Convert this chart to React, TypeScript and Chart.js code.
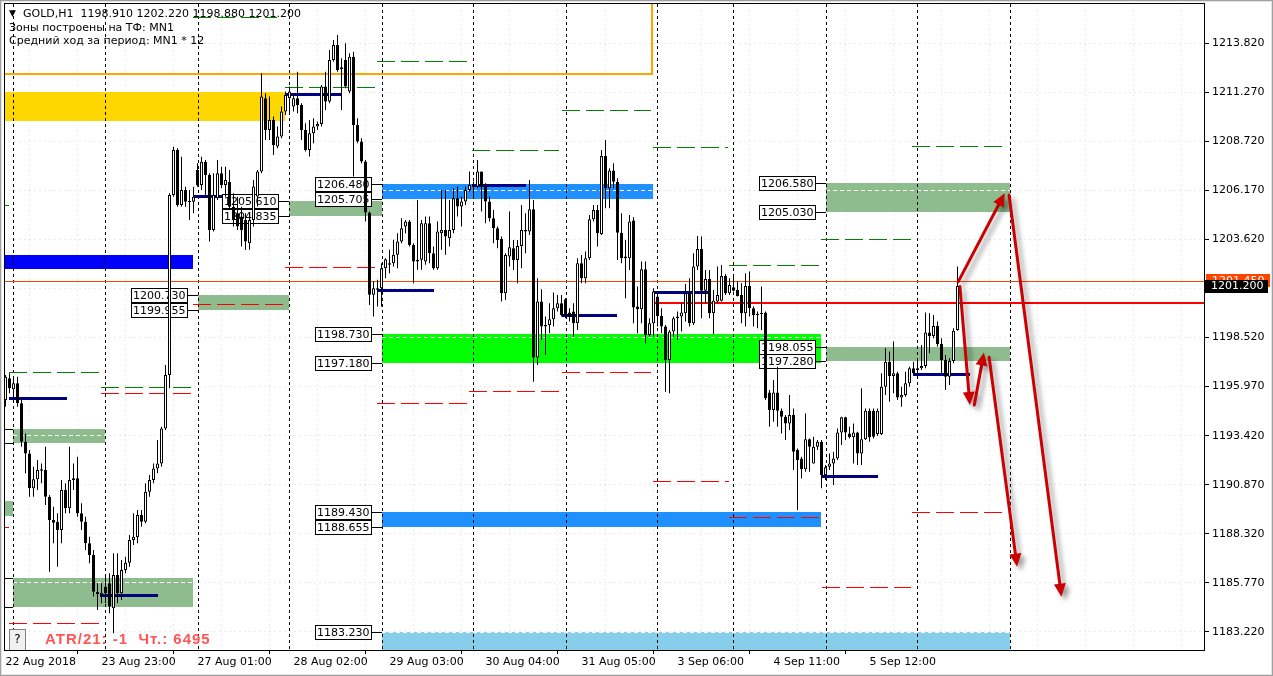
import React, { useEffect, useRef } from 'react';
import { Chart, registerables } from 'chart.js';
Chart.register(...registerables);

// ---------- candle data (GOLD H1) ----------
const opens = [1195.28,1196.40,1195.83,1196.14,1195.10,1193.11,1192.50,1190.69,1191.15,1191.60,1191.64,1190.25,1189.04,1188.95,1188.52,1190.60,1189.65,1191.12,1191.21,1189.39,1188.95,1187.83,1187.22,1185.31,1185.14,1185.57,1185.75,1184.45,1186.18,1185.23,1186.44,1186.82,1188.00,1188.14,1189.30,1188.95,1190.51,1191.12,1191.72,1191.98,1193.80,1196.58,1205.93,1208.27,1205.41,1206.19,1205.57,1205.58,1207.23,1206.45,1207.66,1206.97,1204.11,1205.76,1207.06,1206.45,1206.62,1205.32,1204.98,1204.81,1204.63,1203.42,1204.63,1205.85,1207.15,1210.96,1209.31,1209.83,1208.45,1208.97,1210.27,1210.96,1210.53,1210.96,1210.61,1209.31,1208.27,1209.14,1209.49,1209.62,1211.57,1210.79,1212.95,1213.73,1212.47,1212.95,1211.31,1213.12,1209.57,1208.71,1207.67,1205.02,1200.74,1201.00,1201.08,1202.12,1202.30,1202.38,1202.82,1203.51,1204.29,1204.55,1203.33,1202.56,1202.56,1202.47,1204.46,1202.90,1202.12,1203.94,1204.11,1203.68,1204.11,1205.76,1205.33,1205.59,1206.19,1206.45,1206.37,1207.15,1206.37,1205.59,1204.72,1204.20,1203.65,1200.82,1202.73,1203.16,1202.55,1203.28,1204.03,1204.03,1205.19,1197.48,1200.39,1199.17,1199.17,1199.47,1200.04,1200.30,1200.51,1199.82,1199.87,1199.26,1202.38,1201.60,1202.64,1204.67,1205.15,1203.89,1207.96,1206.28,1207.20,1206.62,1203.97,1202.73,1202.64,1204.60,1200.13,1199.99,1202.07,1198.66,1199.26,1200.65,1199.64,1199.09,1197.36,1198.83,1199.52,1199.61,1199.78,1200.82,1199.26,1202.21,1203.12,1200.96,1201.57,1199.78,1200.39,1200.44,1201.72,1200.82,1201.13,1200.99,1200.73,1199.78,1201.20,1200.04,1199.75,1199.75,1199.83,1195.67,1194.76,1195.67,1194.72,1194.41,1194.06,1194.50,1192.68,1192.24,1191.67,1193.23,1191.98,1192.85,1193.11,1191.38,1191.81,1191.98,1192.24,1193.58,1194.38,1193.54,1193.34,1193.58,1192.50,1193.23,1194.72,1194.72,1193.51,1193.51,1195.97,1197.27,1196.52,1196.66,1195.41,1195.54,1196.14,1196.92,1196.84,1196.92,1197.04,1198.78,1198.60,1199.12,1198.19,1197.35,1196.49,1197.30,1198.91];
const highs = [1196.58,1196.66,1196.49,1196.49,1195.28,1193.54,1192.68,1191.81,1192.16,1191.98,1192.85,1190.34,1189.73,1189.39,1191.12,1190.95,1192.85,1191.98,1192.33,1189.91,1189.21,1188.17,1187.48,1185.75,1185.75,1186.09,1186.27,1187.31,1187.31,1186.96,1187.13,1188.26,1189.39,1189.56,1189.56,1190.95,1191.38,1191.98,1193.20,1193.89,1197.10,1206.02,1208.44,1208.36,1207.92,1206.36,1206.19,1206.36,1207.58,1207.92,1207.75,1207.06,1207.06,1207.75,1207.40,1207.40,1207.23,1206.02,1205.84,1205.32,1204.98,1204.98,1206.71,1207.23,1212.26,1211.22,1211.05,1210.01,1209.49,1210.53,1211.31,1211.57,1211.13,1212.34,1210.70,1209.66,1209.83,1209.92,1209.75,1211.65,1212.34,1213.47,1213.99,1214.25,1213.04,1213.82,1213.30,1213.38,1209.92,1208.88,1207.75,1205.07,1201.43,1201.52,1202.38,1202.64,1203.08,1203.60,1203.94,1204.72,1204.63,1204.63,1203.42,1205.67,1204.63,1204.81,1204.81,1203.25,1204.55,1206.19,1206.19,1205.67,1206.28,1206.37,1205.85,1206.37,1207.15,1206.63,1207.75,1207.15,1206.54,1205.85,1205.15,1204.29,1203.77,1202.90,1205.07,1203.59,1203.59,1205.41,1204.98,1206.71,1205.67,1201.60,1201.03,1199.61,1200.30,1200.86,1200.73,1200.73,1200.56,1200.04,1200.30,1202.64,1202.81,1202.99,1204.89,1205.41,1205.41,1208.27,1208.79,1207.32,1207.58,1206.80,1204.98,1203.59,1204.89,1204.77,1201.17,1202.47,1202.47,1199.52,1201.08,1200.91,1200.04,1199.17,1198.91,1199.61,1199.87,1200.30,1201.31,1201.60,1202.90,1203.80,1203.77,1202.03,1202.03,1200.99,1202.21,1202.29,1201.83,1201.60,1201.69,1201.43,1201.34,1201.86,1201.95,1200.13,1199.87,1201.17,1199.87,1195.80,1196.32,1197.01,1194.84,1194.50,1195.54,1194.84,1192.76,1192.33,1194.58,1193.28,1193.37,1193.20,1193.20,1191.90,1192.50,1192.59,1193.80,1194.41,1194.41,1193.89,1194.06,1193.63,1195.88,1194.84,1194.84,1194.84,1194.84,1196.66,1197.96,1197.79,1198.31,1196.75,1195.97,1196.75,1197.01,1197.27,1197.35,1198.13,1199.82,1199.78,1199.69,1199.35,1198.48,1197.62,1197.44,1199.00,1202.22];
const lows = [1194.93,1195.62,1195.45,1194.93,1192.85,1191.47,1190.25,1190.25,1190.60,1190.95,1189.82,1186.35,1187.83,1186.61,1187.83,1189.39,1189.39,1190.60,1189.21,1188.52,1187.48,1186.79,1185.06,1184.36,1184.71,1184.71,1184.19,1183.15,1184.71,1184.88,1186.27,1186.61,1187.74,1187.83,1188.69,1188.87,1190.25,1190.95,1191.47,1191.81,1193.72,1195.88,1205.84,1205.32,1205.32,1205.32,1204.63,1204.98,1206.36,1206.19,1205.84,1203.51,1204.03,1205.67,1206.28,1205.84,1205.15,1204.29,1204.11,1203.25,1203.07,1203.08,1204.29,1205.33,1207.06,1208.79,1208.79,1208.01,1208.36,1208.88,1210.09,1210.09,1210.27,1210.18,1208.79,1208.19,1207.93,1208.62,1209.31,1209.49,1210.35,1210.70,1212.86,1212.34,1210.35,1211.48,1211.22,1206.89,1208.62,1207.58,1204.55,1200.22,1199.61,1200.13,1200.13,1201.60,1201.86,1202.21,1202.12,1203.42,1203.94,1203.25,1201.34,1202.04,1202.04,1202.30,1202.38,1202.04,1202.04,1203.08,1202.82,1203.25,1203.94,1204.81,1204.29,1205.41,1206.11,1205.85,1206.28,1205.07,1204.46,1204.55,1203.42,1203.16,1200.39,1200.47,1202.21,1202.03,1201.34,1202.12,1202.90,1203.85,1196.23,1197.10,1198.40,1197.62,1198.74,1199.09,1199.87,1199.61,1199.52,1199.35,1198.57,1198.91,1201.34,1201.34,1202.55,1204.55,1203.25,1203.85,1205.24,1205.24,1206.28,1202.55,1202.38,1200.56,1202.03,1199.26,1198.74,1199.26,1198.22,1198.57,1198.57,1199.09,1198.74,1195.71,1195.62,1198.57,1198.40,1198.83,1199.35,1199.09,1199.17,1202.03,1199.52,1200.30,1199.52,1198.71,1200.30,1200.39,1200.73,1200.73,1200.91,1200.65,1199.26,1199.09,1199.61,1199.09,1199.00,1198.91,1195.28,1193.89,1194.15,1193.89,1193.54,1193.20,1193.72,1191.64,1189.56,1191.20,1191.55,1191.55,1191.98,1192.68,1190.69,1191.12,1191.64,1190.86,1192.16,1192.94,1193.20,1193.28,1191.98,1191.90,1191.90,1193.20,1193.11,1193.28,1193.40,1193.46,1195.54,1195.19,1195.62,1195.28,1194.93,1195.45,1195.97,1196.58,1196.66,1196.84,1196.92,1197.70,1198.48,1198.05,1196.66,1195.80,1196.06,1197.18,1198.88];
const closes = [1196.49,1195.88,1196.14,1195.10,1193.11,1192.50,1190.69,1191.15,1191.64,1191.67,1190.25,1189.04,1188.90,1188.52,1190.60,1189.65,1191.12,1191.21,1189.39,1188.95,1187.83,1187.22,1185.31,1185.19,1185.26,1185.23,1184.54,1186.18,1185.23,1186.44,1186.82,1188.00,1188.17,1189.30,1188.95,1190.51,1191.12,1191.72,1191.98,1193.80,1196.58,1205.93,1208.27,1205.41,1206.19,1205.58,1205.62,1205.84,1206.45,1207.66,1206.97,1204.11,1205.93,1207.06,1206.45,1206.71,1205.32,1204.63,1204.29,1204.11,1203.51,1204.63,1206.37,1207.15,1211.05,1209.31,1209.83,1208.53,1208.97,1210.27,1211.13,1211.31,1210.96,1210.61,1209.31,1208.27,1209.14,1209.49,1209.62,1211.57,1210.79,1212.95,1213.73,1212.43,1212.57,1211.57,1213.12,1209.57,1208.71,1207.67,1205.02,1200.74,1201.08,1201.08,1202.12,1202.59,1202.38,1202.82,1203.51,1204.20,1204.55,1203.33,1202.47,1202.47,1204.46,1204.46,1202.90,1202.12,1204.03,1204.11,1203.77,1204.11,1205.76,1205.33,1205.59,1206.19,1206.45,1206.37,1207.15,1206.37,1205.59,1204.72,1204.20,1203.59,1200.82,1202.81,1203.21,1202.55,1203.28,1204.11,1204.11,1205.19,1197.48,1200.39,1199.09,1199.09,1199.47,1200.04,1200.30,1199.70,1199.70,1199.61,1199.26,1202.38,1201.60,1202.64,1204.67,1205.15,1203.94,1207.96,1206.28,1207.20,1206.62,1203.97,1202.64,1202.64,1204.55,1200.09,1199.99,1202.07,1198.66,1199.26,1200.91,1199.64,1199.09,1197.36,1198.83,1199.52,1199.61,1199.83,1200.82,1199.26,1202.21,1203.12,1200.96,1201.57,1199.78,1200.44,1200.73,1201.72,1200.82,1201.25,1200.96,1200.68,1199.78,1201.20,1200.04,1199.69,1199.69,1199.78,1195.36,1194.76,1195.67,1194.72,1194.41,1194.06,1194.50,1192.59,1192.16,1191.67,1193.23,1192.85,1192.85,1193.11,1191.38,1191.78,1191.98,1192.24,1193.58,1194.38,1193.58,1193.34,1193.58,1192.50,1193.23,1194.72,1193.34,1193.37,1194.72,1195.97,1197.27,1196.52,1196.66,1195.41,1195.54,1196.14,1196.92,1196.66,1196.92,1197.04,1198.78,1198.60,1199.12,1198.19,1197.35,1196.49,1197.30,1198.88,1201.20];

// ---------- axes ----------
const xTickLabels = ['22 Aug 2018', '23 Aug 23:00', '27 Aug 01:00', '28 Aug 02:00', '29 Aug 03:00', '30 Aug 04:00', '31 Aug 05:00', '3 Sep 06:00', '4 Sep 11:00', '5 Sep 12:00'];
const barsPerLabel = 24;
const yTickValues = [1183.22, 1185.77, 1188.32, 1190.87, 1193.42, 1195.97, 1198.52, 1201.07, 1203.62, 1206.17, 1208.72, 1211.27, 1213.82];
const xRange = [-0.375, 299.875];
const yRange = [1182.28, 1215.86];

// day separators (bar index)
const separators = [1.9, 25, 48, 70.9, 94, 117, 140, 162.9, 181.9, 205, 228, 251.1];

// ---------- zones [from, to, top price, bottom price] ----------
const goldZones = [[-3, 69.8, 1211.30, 1209.80]];
const blueZones = [[-3, 46.8, 1202.81, 1202.07]];
const seaGreenZones = [[-3, 1.9, 1190.00, 1189.25], [1.9, 25.0, 1193.75, 1193.03], [1.9, 46.8, 1186.01, 1184.54], [48.0, 70.9, 1200.730, 1199.955], [70.9, 94.0, 1205.610, 1204.835], [205.0, 251.1, 1206.580, 1205.030], [205.0, 251.1, 1198.055, 1197.280]];
const dodgerZones = [[94.0, 161.8, 1206.480, 1205.705], [94.0, 203.8, 1189.430, 1188.655]];
const limeZones = [[94.0, 203.8, 1198.730, 1197.180]];
const skyZones = [[94.0, 251.1, 1183.230, 1180.0]];
const orangeFrame = [-5, 161.6, 1218.0, 1212.21];

// ---------- levels [from, to, price] ----------
const whiteMarks = [[-3, 69.8, 1211.35], [94, 161.8, 1206.19], [94, 203.8, 1198.54], [205, 251.1, 1206.19], [1.9, 25, 1193.46], [1.9, 46.8, 1185.80], [94, 251.1, 1183.22]];
const greenLevels = [[-3, 0.9, 1205.41], [0.9, 23.4, 1196.72], [23.8, 46.3, 1195.94], [46.8, 67.8, 1215.17], [69.8, 92.3, 1211.56], [92.9, 115.4, 1212.88], [116.6, 138.3, 1208.27], [139, 161.3, 1210.35], [161.9, 180.6, 1208.41], [180.8, 203.6, 1202.29], [203.8, 226.3, 1203.63], [226.6, 249.3, 1208.48]];
const redLevels = [[-3, 0.9, 1188.69], [0.9, 23.4, 1183.70], [23.8, 46.3, 1195.63], [46.8, 70.6, 1200.27], [69.8, 92.3, 1202.18], [92.8, 115.3, 1195.11], [115.8, 138.3, 1195.73], [139, 161.3, 1196.72], [161.9, 180.8, 1191.07], [180.8, 203.6, 1189.18], [204, 226.3, 1185.54], [226.6, 249.3, 1189.46]];
const navyLevels = [[0.9, 15.3, 1195.37], [23.6, 38.1, 1185.14], [46.8, 55.6, 1205.88], [69.8, 84.1, 1211.18], [93, 107.2, 1201.00], [116.5, 130.1, 1206.44], [139, 153, 1199.70], [161.9, 175.7, 1200.91], [203.8, 218.2, 1191.33], [226.9, 241.1, 1196.61]];
const redLineStart = 162;
const redLinePrice = 1200.33;
const askPrice = 1201.45;
const bidPrice = 1201.20;

// arrows [fromIndex, fromPrice, toIndex, toPrice]
const arrows = [[238.2, 1201.43, 249.8, 1206.02], [250.9, 1205.93, 264.0, 1185.05], [238.6, 1201.17, 241.1, 1195.02], [242.2, 1195.02, 244.6, 1197.74], [245.9, 1197.50, 252.9, 1186.61]];

const headerLines = ['GOLD,H1  1198.910 1202.220 1198.880 1201.200', 'Зоны построены на ТФ: MN1', 'Средний ход за период: MN1 * 12'];
const atrText = 'ATR/21: -1  Чт.: 6495';

const FONT = 'DejaVu Sans';

function xLabelFor(v: number): string {
  if (v % barsPerLabel !== 0) return '';
  const i = v / barsPerLabel;
  return i >= 0 && i < xTickLabels.length ? xTickLabels[i] : '';
}

function drawArrow(ctx: CanvasRenderingContext2D, x1: number, y1: number, x2: number, y2: number) {
  const ang = Math.atan2(y2 - y1, x2 - x1);
  const hl = 13, hw = 6;
  const bx = x2 - hl * Math.cos(ang), by = y2 - hl * Math.sin(ang);
  ctx.beginPath();
  ctx.moveTo(x1, y1);
  ctx.lineTo(bx, by);
  ctx.stroke();
  ctx.beginPath();
  ctx.moveTo(x2, y2);
  ctx.lineTo(bx + hw * Math.sin(ang), by - hw * Math.cos(ang));
  ctx.lineTo(bx - hw * Math.sin(ang), by + hw * Math.cos(ang));
  ctx.closePath();
  ctx.fill();
}

const overlayPlugin = {
  id: 'mt4overlay',
  beforeDatasetsDraw(chart: any) {
    const { ctx, chartArea: a } = chart;
    const xs = chart.scales.x, ys = chart.scales.y;
    const X = (v: number) => xs.getPixelForValue(v);
    const Y = (v: number) => ys.getPixelForValue(v);
    ctx.save();
    ctx.beginPath();
    ctx.rect(a.left, a.top, a.right - a.left, a.bottom - a.top);
    ctx.clip();

    const fillZones = (list: number[][], color: string) => {
      ctx.fillStyle = color;
      for (const [f, t, hi, lo] of list) {
        const x1 = Math.round(X(f)), x2 = Math.round(X(t));
        const y1 = Math.round(Y(hi)), y2 = Math.round(Y(lo));
        ctx.fillRect(x1, y1, x2 - x1, y2 - y1);
      }
    };
    fillZones(goldZones, '#FFD700');
    fillZones(blueZones, '#0000FF');
    fillZones(seaGreenZones, '#8FBC8F');
    fillZones(dodgerZones, '#1E90FF');
    fillZones(limeZones, '#00FF00');
    fillZones(skyZones, '#87CEEB');

    // orange frame
    ctx.strokeStyle = '#FFA500';
    ctx.lineWidth = 2;
    {
      const [f, t, hi, lo] = orangeFrame;
      const x1 = Math.round(X(f)), x2 = Math.round(X(t)), y1 = Math.round(Y(hi)), y2 = Math.round(Y(lo));
      ctx.strokeRect(x1, y1, x2 - x1, y2 - y1);
    }

    const hLines = (list: number[][], color: string, width: number, dash: number[]) => {
      ctx.strokeStyle = color;
      ctx.lineWidth = width;
      ctx.setLineDash(dash);
      for (const [f, t, p] of list) {
        const yy = width % 2 === 1 ? Math.round(Y(p)) + 0.5 : Math.round(Y(p));
        ctx.beginPath();
        ctx.moveTo(Math.round(X(f)), yy);
        ctx.lineTo(Math.round(X(t)), yy);
        ctx.stroke();
      }
      ctx.setLineDash([]);
    };
    hLines(whiteMarks, '#FFFFFF', 1, [4, 3]);

    // day separators
    ctx.strokeStyle = '#000';
    ctx.lineWidth = 1;
    ctx.setLineDash([3, 3]);
    for (const s of separators) {
      const xx = Math.round(X(s)) + 0.5;
      ctx.beginPath();
      ctx.moveTo(xx, a.top);
      ctx.lineTo(xx, a.bottom);
      ctx.stroke();
    }
    ctx.setLineDash([]);

    hLines(greenLevels, '#008000', 1, [18, 6]);
    hLines(redLevels, '#FF0000', 1, [18, 6]);
    hLines(navyLevels, '#000080', 3, []);

    // ask line and red level
    hLines([[xRange[0], xRange[1], askPrice]], '#FF4500', 1, []);
    hLines([[redLineStart, xRange[1], redLinePrice]], '#FF0000', 2, []);

    // price labels of zones
    ctx.font = `11px ${FONT}`;
    ctx.textBaseline = 'middle';
    ctx.textAlign = 'left';
    const labelled = [...seaGreenZones.slice(1), ...dodgerZones, ...limeZones];
    const drawLabel = (f: number, p: number) => {
      const txt = p.toFixed(3);
      const w = Math.ceil(ctx.measureText(txt).width) + 4;
      const zx = Math.round(X(f));
      const right = zx - 10;
      const yy = Math.round(Y(p));
      ctx.fillStyle = '#fff';
      ctx.fillRect(right - w, yy - 7, w, 14);
      ctx.strokeStyle = '#000';
      ctx.lineWidth = 1;
      ctx.strokeRect(right - w + 0.5, yy - 7 + 0.5, w - 1, 14);
      ctx.beginPath();
      ctx.moveTo(right, yy + 0.5);
      ctx.lineTo(zx, yy + 0.5);
      ctx.stroke();
      ctx.fillStyle = '#000';
      ctx.fillText(txt, right - w + 2, yy + 1);
    };
    for (const [f, , hi, lo] of labelled) {
      drawLabel(f, hi);
      drawLabel(f, lo);
    }
    for (const [f, , hi] of skyZones) drawLabel(f, hi);
    ctx.restore();
  },
  afterDatasetsDraw(chart: any) {
    const { ctx, chartArea: a } = chart;
    const xs = chart.scales.x, ys = chart.scales.y;
    const X = (v: number) => xs.getPixelForValue(v);
    const Y = (v: number) => ys.getPixelForValue(v);
    ctx.save();
    ctx.beginPath();
    ctx.rect(a.left, a.top, a.right - a.left, a.bottom - a.top);
    ctx.clip();
    // arrows with soft shadow
    ctx.strokeStyle = '#CC0000';
    ctx.fillStyle = '#CC0000';
    ctx.lineWidth = 3;
    ctx.lineCap = 'round';
    ctx.shadowColor = 'rgba(0,0,0,0.4)';
    ctx.shadowBlur = 5;
    ctx.shadowOffsetX = 4;
    ctx.shadowOffsetY = 4;
    for (const [i1, p1, i2, p2] of arrows) drawArrow(ctx, X(i1), Y(p1), X(i2), Y(p2));
    ctx.shadowColor = 'rgba(0,0,0,0)';
    ctx.lineCap = 'butt';

    // header texts
    ctx.fillStyle = '#000';
    ctx.textBaseline = 'middle';
    ctx.textAlign = 'left';
    ctx.font = `9px ${FONT}`;
    ctx.fillText('▼', 9, 14);
    ctx.font = `11px ${FONT}`;
    ctx.fillText(headerLines[0], 23, 14);
    ctx.fillText(headerLines[1], 9, 28);
    ctx.fillText(headerLines[2], 9, 41);

    // "?" button and ATR text
    ctx.fillStyle = '#F0F0F0';
    ctx.fillRect(9, 629, 16, 22);
    ctx.strokeStyle = '#808080';
    ctx.lineWidth = 1;
    ctx.strokeRect(9.5, 629.5, 16, 22);
    ctx.fillStyle = '#000';
    ctx.font = `12px ${FONT}`;
    ctx.textAlign = 'center';
    ctx.fillText('?', 17.5, 640);
    ctx.textAlign = 'left';
    ctx.fillStyle = '#FF5555';
    ctx.font = `bold 15px 'Liberation Sans'`;
    (ctx as any).letterSpacing = '1px';
    ctx.fillText(atrText, 45, 640);
    (ctx as any).letterSpacing = '0px';
    ctx.restore();
  },
  afterDraw(chart: any) {
    const { ctx, chartArea: a } = chart;
    const ys = chart.scales.y;
    const Y = (v: number) => ys.getPixelForValue(v);
    ctx.save();
    // plot frame
    ctx.strokeStyle = '#000';
    ctx.lineWidth = 1;
    ctx.strokeRect(a.left + 0.5, a.top - 0.5, a.right - a.left - 1, a.bottom - a.top + 1);
    // price tags on the axis
    ctx.font = `11px ${FONT}`;
    ctx.textBaseline = 'middle';
    ctx.textAlign = 'left';
    const ya = Math.round(Y(askPrice));
    ctx.fillStyle = '#FF4500';
    ctx.fillRect(a.right + 1, ya - 7, 64, 13);
    ctx.fillStyle = '#fff';
    ctx.fillText(askPrice.toFixed(3), a.right + 7, ya);
    const yb = Math.round(Y(bidPrice));
    ctx.fillStyle = '#000';
    ctx.fillRect(a.right, yb - 6, 63, 13);
    ctx.fillStyle = '#fff';
    ctx.fillText(bidPrice.toFixed(3), a.right + 6, yb + 0.5);
    // window frame
    const W = chart.width, H = chart.height;
    ctx.strokeStyle = '#A0A0A0';
    ctx.strokeRect(0.5, 0.5, W - 1, H - 1);
    ctx.strokeStyle = '#E3E3E3';
    ctx.strokeRect(1.5, 1.5, W - 3, H - 3);
    ctx.restore();
  },
};

export default function App() {
  const ref = useRef<HTMLCanvasElement>(null);
  useEffect(() => {
    const canvas = ref.current;
    if (!canvas) return;
    const idx = opens.map((_, i) => i);
    const bull = idx.map((i) => closes[i] >= opens[i]);
    const gridColor = 'rgba(0,0,0,0.08)';
    const chart = new Chart(canvas, {
      type: 'bar',
      data: {
        datasets: [
          {
            label: 'body',
            data: idx.map((i) => ({ x: i, y: [opens[i], closes[i]] })) as any,
            backgroundColor: bull.map((b) => (b ? '#FFFFFF' : '#000000')),
            borderColor: '#000000',
            borderWidth: 1,
            borderSkipped: false,
            grouped: false,
            barThickness: 3,
            maxBarThickness: 3,
            minBarLength: 1,
            inflateAmount: 0,
            order: 0,
          } as any,
          {
            label: 'wick',
            data: idx.map((i) => ({ x: i, y: [lows[i], highs[i]] })) as any,
            backgroundColor: '#000000',
            borderWidth: 0,
            grouped: false,
            barThickness: 1,
            maxBarThickness: 1,
            inflateAmount: 0,
            order: 1,
          } as any,
        ],
      },
      options: {
        responsive: false,
        maintainAspectRatio: false,
        devicePixelRatio: 1,
        animation: false,
        events: [],
        layout: { padding: { left: 4, top: 4, right: 0, bottom: 0 } },
        plugins: { legend: { display: false }, tooltip: { enabled: false } },
        scales: {
          x: {
            type: 'linear',
            min: xRange[0],
            max: xRange[1],
            offset: false,
            afterBuildTicks: (s: any) => {
              const t = [];
              for (let v = 0; v <= 288; v += 12) t.push({ value: v });
              s.ticks = t;
            },
            afterFit: (s: any) => {
              s.height = 26;
              s.paddingLeft = 0;
              s.paddingRight = 0;
            },
            ticks: {
              autoSkip: false,
              maxRotation: 0,
              minRotation: 0,
              align: 'start',
              padding: 2,
              color: '#000',
              font: { family: FONT, size: 11 },
              callback: (v: any) => xLabelFor(Number(v)),
            },
            grid: {
              color: gridColor,
              tickLength: 4,
              tickColor: (c: any) => (c.tick && xLabelFor(c.tick.value) ? '#000' : 'rgba(0,0,0,0)'),
              tickBorderDash: [],
            },
            border: { display: false, dash: [2, 3] },
          } as any,
          y: {
            type: 'linear',
            position: 'right',
            min: yRange[0],
            max: yRange[1],
            afterBuildTicks: (s: any) => {
              s.ticks = yTickValues.map((v) => ({ value: v }));
            },
            afterFit: (s: any) => {
              s.width = 68;
              s.paddingTop = 0;
              s.paddingBottom = 0;
            },
            ticks: {
              padding: 3,
              color: '#000',
              font: { family: FONT, size: 11 },
              callback: (v: any) => Number(v).toFixed(3),
            },
            grid: { color: gridColor, tickLength: 4, tickColor: '#000', tickBorderDash: [] },
            border: { display: false, dash: [2, 3] },
          } as any,
        },
      },
      plugins: [overlayPlugin],
    });
    return () => chart.destroy();
  }, []);
  return (
    <div style={{ position: 'absolute', left: 0, top: 0, width: 1273, height: 676, background: '#fff' }}>
      <canvas ref={ref} width={1273} height={676} style={{ display: 'block' }} />
    </div>
  );
}
